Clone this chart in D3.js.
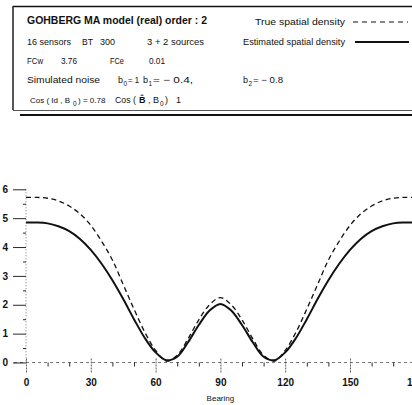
<!DOCTYPE html>
<html><head><meta charset="utf-8">
<script src="https://cdn.jsdelivr.net/npm/d3@7"></script>
<style>
html,body{margin:0;padding:0;background:#fff;}
svg{display:block;font-family:"Liberation Sans",Arial,sans-serif;}
</style></head>
<body>
<svg id="c" width="412" height="405"></svg>
<script>
const bearing = [0,5,10,15,20,25,30,35,40,45,50,55,60,65,70,75,80,85,90,95,100,105,110,115,120,125,130,135,140,145,150,155,160,165,170,175,180];
const estimatedDensity = [4.85,4.85,4.82,4.72,4.55,4.28,3.90,3.42,2.85,2.20,1.50,0.85,0.35,0.08,0.20,0.70,1.30,1.80,2.03,1.80,1.30,0.70,0.20,0.08,0.35,0.85,1.50,2.20,2.85,3.42,3.90,4.28,4.55,4.72,4.82,4.85,4.85];
const trueDensity = [5.72,5.72,5.69,5.60,5.42,5.15,4.75,4.20,3.55,2.70,1.85,1.05,0.42,0.05,0.25,0.82,1.48,2.00,2.25,2.00,1.48,0.82,0.25,0.05,0.42,1.05,1.85,2.70,3.55,4.20,4.75,5.15,5.42,5.60,5.69,5.72,5.72];
const xTicks = [0,30,60,90,120,150,180];
const xMinorTicks = [10,20,40,50,70,80,100,110,130,140,160,170];
const yTicks = [0,1,2,3,4,5,6];
const yMinorTicks = [0.5,1.5,2.5,3.5,4.5,5.5];
const xLabel = "Bearing";
const infoTitle = "GOHBERG MA model (real) order : 2";
const legendLabels = ["True spatial density","Estimated spatial density"];

const svg = d3.select("#c");
const x = d3.scaleLinear().domain([0,180]).range([26,414.8]);
const y = d3.scaleLinear().domain([0,6]).range([362.5,189.3]);
const ink = "#111";

// ---- info box ----
const box = svg.append("g");
box.append("line").attr("x1",13).attr("x2",412).attr("y1",6.5).attr("y2",6.5).attr("stroke",ink).attr("stroke-width",1.6);
box.append("line").attr("x1",13).attr("x2",13).attr("y1",6).attr("y2",110).attr("stroke",ink).attr("stroke-width",1.4);
box.append("line").attr("x1",13).attr("x2",412).attr("y1",110.5).attr("y2",110.5).attr("stroke","#444").attr("stroke-width",0.9);
box.append("line").attr("x1",20).attr("x2",412).attr("y1",115).attr("y2",115).attr("stroke",ink).attr("stroke-width",1.8);

function txt(s,xx,yy,size,w,len){
  const t = box.append("text").attr("x",xx).attr("y",yy).attr("font-size",size).attr("fill",ink)
    .attr("font-weight",w||"normal").text(s);
  if(len) t.attr("textLength",len).attr("lengthAdjust","spacingAndGlyphs");
  return t;
}
txt(infoTitle,27,24,11.5,"bold",180);
txt("16 sensors",27,45,9,null,44);
txt("BT",82,45,9,null,11);
txt("300",100,45,9,null,15);
txt("3 + 2 sources",147,45,9,null,57);
txt("FCw",27,64,9,null,16);
txt("3.76",61,64,9,null,16);
txt("FCe",110,64,9,null,14);
txt("0.01",149,64,9,null,16);
txt("Simulated noise",27,83,9,null,73);
// b coefficients
txt("b",118,83,9); txt("0",123.5,85.5,6.5); txt("= 1",128,83,9,null,11);
txt("b",143,83,9); txt("1",148.5,85.5,6.5); txt("= \u2212 0.4,",153,83,9,null,40);
txt("b",243,83,9); txt("2",248.5,85.5,6.5); txt("= \u2212 0.8",253,83,9,null,30);
// cos lines
txt("Cos ( Id , B",30,103,8); txt("0",73,105.5,6.5); txt(") = 0.78",78,103,8);
txt("Cos (",115,103,9,null,21); txt("B\u0302",139,103,9,"bold"); txt(", B",148,103,9,null,11);
txt("0",160,105.5,6.5); txt(")",165,103,9); txt("1",176,103,9);
// legend
txt(legendLabels[0],255,25,9,null,90);
txt(legendLabels[1],243,45,9,null,102);
box.append("line").attr("x1",353).attr("x2",408).attr("y1",22).attr("y2",22).attr("stroke",ink).attr("stroke-width",1).attr("stroke-dasharray","5,4");
box.append("line").attr("x1",355).attr("x2",409).attr("y1",42).attr("y2",42).attr("stroke",ink).attr("stroke-width",1.8);

// ---- axes ----
const ax = svg.append("g");
ax.append("line").attr("x1",x(0)).attr("x2",x(0)).attr("y1",y(6)).attr("y2",y(0)).attr("stroke","#555").attr("stroke-width",0.8).attr("stroke-dasharray","1,2");
ax.append("line").attr("x1",14).attr("x2",412).attr("y1",y(0)).attr("y2",y(0)).attr("stroke","#555").attr("stroke-width",0.8).attr("stroke-dasharray","3,3");

const yAxis = d3.axisLeft(y).tickValues(yTicks).tickSize(13).tickSizeOuter(0).tickPadding(5).tickFormat(d3.format("d"));
const gy = ax.append("g").attr("transform",`translate(${x(0)},0)`).call(yAxis);
gy.select(".domain").remove();
gy.selectAll(".tick line").attr("stroke",ink).attr("stroke-width",0.9);
gy.selectAll(".tick text").attr("font-size",10).attr("font-weight","bold").attr("fill",ink).attr("font-family","Liberation Sans, Arial, sans-serif");

const yMinor = d3.axisLeft(y).tickValues(yMinorTicks).tickSize(3).tickSizeOuter(0).tickFormat("");
const gym = ax.append("g").attr("transform",`translate(${x(0)},0)`).call(yMinor);
gym.select(".domain").remove();
gym.selectAll(".tick line").attr("stroke",ink).attr("stroke-width",0.9);

const xAxis = d3.axisBottom(x).tickValues(xTicks).tickSize(10).tickSizeOuter(0).tickPadding(6).tickFormat(d3.format("d"));
const gx = ax.append("g").attr("transform",`translate(0,${y(0)})`).call(xAxis);
gx.select(".domain").remove();
gx.selectAll(".tick line").attr("stroke","#333").attr("stroke-width",0.8).attr("stroke-dasharray","2,1").attr("y1",-4);
gx.selectAll(".tick text").attr("font-size",10).attr("font-weight","bold").attr("fill",ink).attr("font-family","Liberation Sans, Arial, sans-serif");

const xMinor = d3.axisBottom(x).tickValues(xMinorTicks).tickSize(4).tickSizeOuter(0).tickFormat("");
const gxm = ax.append("g").attr("transform",`translate(0,${y(0)})`).call(xMinor);
gxm.select(".domain").remove();
gxm.selectAll(".tick line").attr("stroke",ink).attr("stroke-width",0.9);

ax.append("text").attr("x",x(90)).attr("y",401).attr("text-anchor","middle").attr("font-size",8).attr("fill",ink).text(xLabel);

// ---- curves ----
const ptsT = bearing.map((b,i)=>[b,trueDensity[i]]);
const ptsE = bearing.map((b,i)=>[b,estimatedDensity[i]]);
const line = d3.line().x(d=>x(d[0])).y(d=>y(d[1])).curve(d3.curveCatmullRom.alpha(0.5));
svg.append("path").attr("d",line(ptsT)).attr("fill","none").attr("stroke",ink).attr("stroke-width",1.3).attr("stroke-dasharray","5,3.5");
svg.append("path").attr("d",line(ptsE)).attr("fill","none").attr("stroke",ink).attr("stroke-width",2);
</script>
</body></html>
